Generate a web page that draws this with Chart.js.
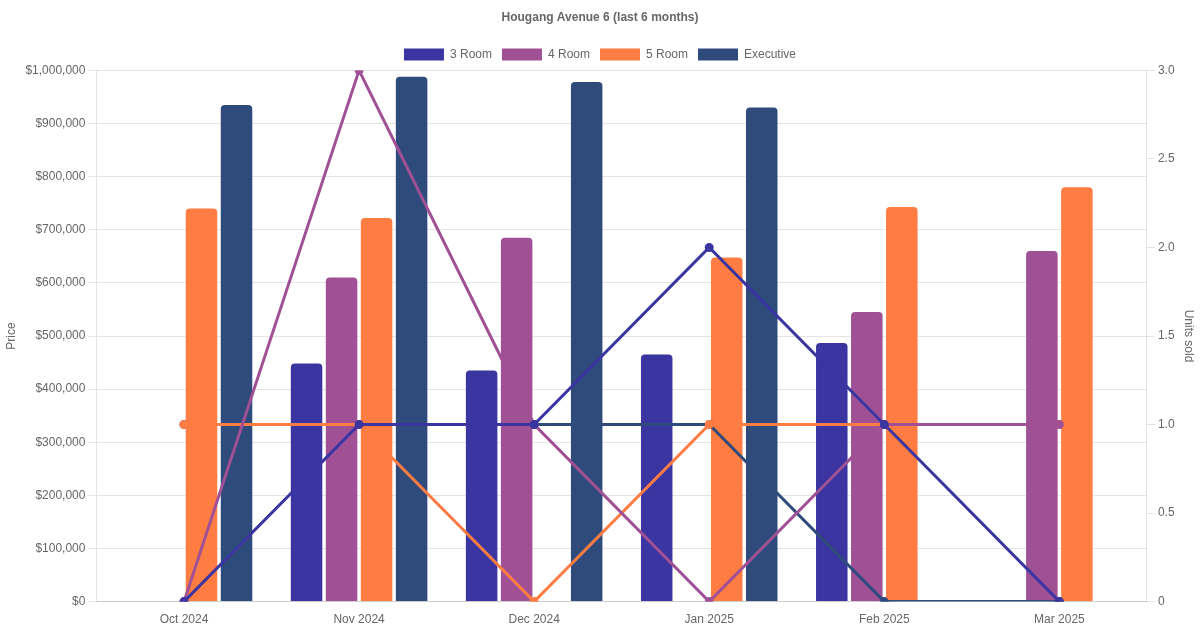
<!DOCTYPE html>
<html>
<head>
<meta charset="utf-8">
<script src="https://cdn.jsdelivr.net/npm/chart.js@4"></script>
<style>
  html, body { margin: 0; padding: 0; background: #fff; }
  #wrap { width: 1200px; height: 630px; }
</style>
</head>
<body>
<div id="wrap"><canvas id="chart"></canvas></div>
<script>
const months = ['Oct 2024', 'Nov 2024', 'Dec 2024', 'Jan 2025', 'Feb 2025', 'Mar 2025'];
const flatTypes = ['3 Room', '4 Room', '5 Room', 'Executive'];
const colors = ['#3a35a0', '#a05195', '#ff7c43', '#2f4b7c'];

const price3 = [null, 448000, 435000, 465000, 487000, null];
const price4 = [null, 610000, 685000, null, 545000, 660000];
const price5 = [740000, 722000, null, 648000, 743000, 780000];
const priceExec = [935000, 988000, 978000, 930000, null, null];

const units3 = [0, 1, 1, 2, 1, 0];
const units4 = [0, 3, 1, 0, 1, 1];
const units5 = [1, 1, 0, 1, 1, 1];
const unitsExec = [1, 1, 1, 1, 0, 0];

const prices = [price3, price4, price5, priceExec];
const units = [units3, units4, units5, unitsExec];

const datasets = [];
flatTypes.forEach(function (name, i) {
    datasets.push({
        type: 'bar',
        label: name,
        data: prices[i],
        backgroundColor: colors[i],
        borderRadius: 4,
        yAxisID: 'y',
        order: 2
    });
});
flatTypes.forEach(function (name, i) {
    datasets.push({
        type: 'line',
        label: name + ' units',
        data: units[i],
        borderColor: colors[i],
        backgroundColor: colors[i],
        borderWidth: 3,
        pointRadius: 3,
        tension: 0,
        yAxisID: 'y1',
        order: 1
    });
});

new Chart(document.getElementById('chart').getContext('2d'), {
    data: { labels: months, datasets: datasets },
    options: {
        responsive: true,
        maintainAspectRatio: false,
        animation: false,
        plugins: {
            title: {
                display: true,
                text: 'Hougang Avenue 6 (last 6 months)',
                color: '#666',
                font: { size: 12, weight: 'bold' },
                padding: { top: 10, bottom: 14 }
            },
            legend: {
                labels: {
                    color: '#666',
                    boxWidth: 40,
                    boxHeight: 12,
                    filter: function (item) { return item.datasetIndex < 4; }
                }
            }
        },
        datasets: { bar: { categoryPercentage: 0.8, barPercentage: 0.9 } },
        scales: {
            x: {
                ticks: { color: '#666' },
                grid: { display: false }
            },
            y: {
                position: 'left',
                min: 0,
                max: 1000000,
                ticks: {
                    stepSize: 100000,
                    color: '#666',
                    callback: function (v) { return '$' + v.toLocaleString('en-US'); }
                },
                title: { display: true, text: 'Price', color: '#666' },
                grid: { color: '#e5e5e5' }
            },
            y1: {
                position: 'right',
                min: 0,
                max: 3,
                ticks: { stepSize: 0.5, color: '#666' },
                title: { display: true, text: 'Units sold', color: '#666' },
                grid: { drawOnChartArea: false }
            }
        }
    }
});
</script>
</body>
</html>
